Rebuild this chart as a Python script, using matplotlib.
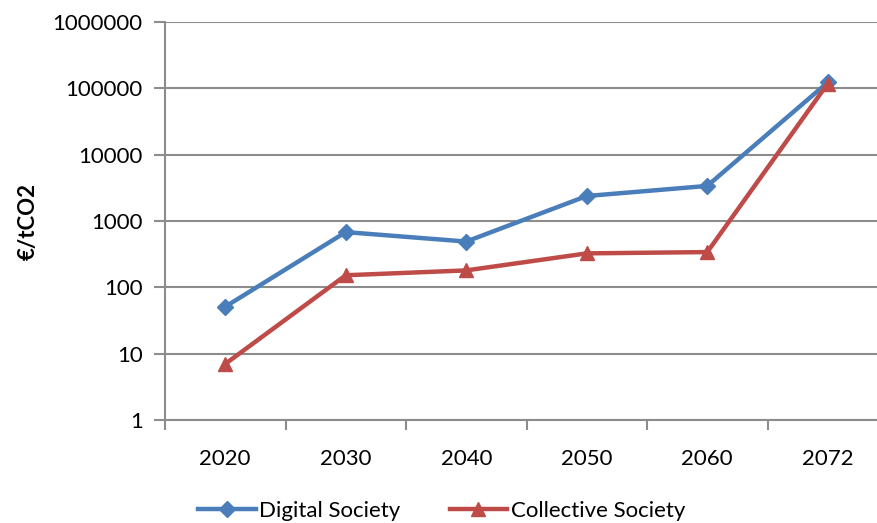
import numpy as np
import matplotlib
matplotlib.use("Agg")
import matplotlib.pyplot as plt
import matplotlib.ticker as mticker

# --- data ---
years = ["2020", "2030", "2040", "2050", "2060", "2072"]
digital = [51, 680, 490, 2380, 3380, 123000]
collective = [7, 152, 180, 325, 340, 118000]

plt.rcParams['font.family'] = ['Lato', 'DejaVu Sans']

fig = plt.figure(figsize=(8.78, 5.23), dpi=100)
ax = fig.add_axes([165 / 878, 103 / 523, 723 / 878, 398 / 523])

x = np.arange(len(years))
blue = '#4A7EBB'
red = '#BE4B48'
grid = '#8C8C8C'

ax.plot(x, digital, color=blue, linewidth=3.2, marker='D', markersize=8,
        label='Digital Society', zorder=3)
ax.plot(x, collective, color=red, linewidth=3.2, marker='^', markersize=10,
        label='Collective Society', zorder=3)

ax.set_yscale('log')
ax.set_ylim(1, 1e6)
ax.set_xlim(-0.5, len(years) - 0.5)
ax.yaxis.set_major_locator(mticker.LogLocator(base=10, numticks=10))
ax.yaxis.set_minor_locator(mticker.NullLocator())
ax.yaxis.set_major_formatter(mticker.FuncFormatter(lambda v, p: f"{int(round(v))}"))

ax.set_xticks(x)
ax.set_xticklabels(years)
ax.set_xticks(np.arange(-0.5, len(years)), minor=True)
ax.tick_params(axis='x', which='major', length=0, pad=21, labelsize=16)
ax.tick_params(axis='x', which='minor', length=7, width=1.5, color=grid, direction='out')
ax.tick_params(axis='y', length=8, width=1.5, color=grid, pad=8, labelsize=16)

ax.grid(axis='y', color=grid, linewidth=1.5)
ax.set_axisbelow(True)
for s in ['top', 'right']:
    ax.spines[s].set_visible(False)
for s in ['left', 'bottom']:
    ax.spines[s].set_color(grid)
    ax.spines[s].set_linewidth(1.5)

ax.set_ylabel('€/tCO2', fontsize=16, fontweight='bold', labelpad=10)

fig.legend(loc='lower center', bbox_to_anchor=(0.503, -0.034), ncol=2, frameon=False,
           fontsize=16, handlelength=2.6, handletextpad=0.15, columnspacing=2.2)

fig.savefig('out.png', dpi=100)
